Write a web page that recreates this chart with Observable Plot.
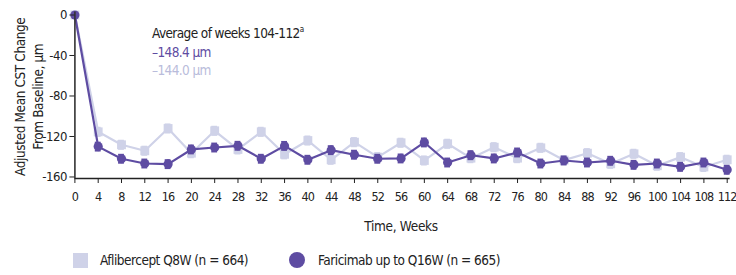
<!DOCTYPE html>
<html>
<head>
<meta charset="utf-8">
<script src="https://cdn.jsdelivr.net/npm/d3@7"></script>
<script src="https://cdn.jsdelivr.net/npm/@observablehq/plot@0.6"></script>
<style>
  html, body { margin: 0; padding: 0; background: #fff; }
  body { width: 736px; height: 275px; overflow: hidden; font-family: "DejaVu Sans", sans-serif; font-stretch: condensed; }
  #chart { position: relative; width: 736px; }
  .legend { display: flex; align-items: center; height: 30px; font-size: 13.5px; letter-spacing: -0.5px; color: #222; }
  .legend .item { display: flex; align-items: center; }
  .sw-sq { width: 15px; height: 15px; background: #cfd2e8; margin-left: 73px; margin-right: 12px; }
  .sw-ci { width: 16px; height: 16px; border-radius: 50%; background: #5e4ca2; margin-left: 41px; margin-right: 13px; }
  .annot { position: absolute; left: 152px; top: 24px; font-size: 13.5px; letter-spacing: -0.6px; line-height: 18.5px; color: #222; }
  .annot sup { font-size: 8px; vertical-align: 6px; line-height: 0; letter-spacing: 0; }
  .annot .f { color: #5e4ca2; }
  .annot .a { color: #b9bcdb; }
  svg g[aria-label="x-axis tick label"] text { letter-spacing: -0.9px; }
  svg g[aria-label="y-axis tick label"] text { letter-spacing: -0.5px; }
  svg g.ytitle text { letter-spacing: -0.4px; }
  svg g.xtitle text { letter-spacing: -0.3px; }
</style>
</head>
<body>
<div id="chart"></div>
<script>
const weeks = [0,4,8,12,16,20,24,28,32,36,40,44,48,52,56,60,64,68,72,76,80,84,88,92,96,100,104,108,112];
const faricimab = [0,-130,-142,-146.7,-147.3,-132.8,-130.9,-129.2,-142,-129.3,-143,-133.5,-138,-142,-141.7,-125.9,-145.7,-138.5,-141.7,-135.8,-146.7,-143.7,-145.7,-144,-148,-146.7,-150,-145.7,-152.9];
const aflibercept = [0,-115.4,-128.2,-134.1,-112.1,-136.5,-114.4,-132.8,-115.4,-137.6,-124,-143,-125.6,-140.4,-126.2,-143.7,-127.2,-141.4,-130.6,-141.4,-131.2,-143.4,-136.5,-147,-137.1,-148.9,-140.4,-150.1,-143];
const faricimabSE = [0,4,4,4,4,4,4,4,4,4,4,4,4,4,4,4,4,4,4,4,4,4,4,4,4,4,4,4,4];
const afliberceptSE = [0,4,4,4,4,4,4,4,4,4,4,4,4,4,4,4,4,4,4,4,4,4,4,4,4,4,4,4,4];
const yTicks = [0,-40,-80,-120,-160];
const seriesNames = ["Aflibercept Q8W (n = 664)", "Faricimab up to Q16W (n = 665)"];
const xTitle = "Time, Weeks";
const yTitle = ["Adjusted Mean CST Change", "From Baseline, \u00b5m"];
const avgTitle = "Average of weeks 104-112";
const avgFaricimab = "\u2013148.4 \u00b5m";
const avgAflibercept = "\u2013144.0 \u00b5m";

const colFar = "#5e4ca2";
const colAfl = "#cfd2e8";
const font = '"DejaVu Sans", sans-serif';

const far = weeks.map((w, i) => ({week: w, v: faricimab[i], se: faricimabSE[i]}));
const afl = weeks.map((w, i) => ({week: w, v: aflibercept[i], se: afliberceptSE[i]}));
const capHalf = 0.5;

function errMarks(data, color, sw) {
  const d = data.filter(p => p.se > 0);
  return [
    Plot.ruleX(d, {x: "week", y1: p => p.v - p.se, y2: p => p.v + p.se, stroke: color, strokeWidth: sw}),
    Plot.ruleY(d, {y: p => p.v - p.se, x1: p => p.week - capHalf, x2: p => p.week + capHalf, stroke: color, strokeWidth: sw}),
    Plot.ruleY(d, {y: p => p.v + p.se, x1: p => p.week - capHalf, x2: p => p.week + capHalf, stroke: color, strokeWidth: sw})
  ];
}

const plot = Plot.plot({
  width: 736,
  height: 245,
  marginLeft: 74.4,
  marginRight: 9.3,
  marginTop: 14.5,
  marginBottom: 67,
  style: {fontFamily: font, fontStretch: "condensed", fontSize: "13px", color: "#222", background: "#fff", overflow: "visible"},
  x: {domain: [0, 112], label: null},
  y: {domain: [-161.5, 0], label: null},
  marks: [
    Plot.line(afl, {x: "week", y: "v", stroke: colAfl, strokeWidth: 2.2}),
    ...errMarks(afl, colAfl, 2),
    Plot.dot(afl, {x: "week", y: "v", symbol: "square", r: 5, fill: colAfl}),
    Plot.line(far, {x: "week", y: "v", stroke: colFar, strokeWidth: 2.2}),
    ...errMarks(far, colFar, 1.8),
    Plot.dot(far, {x: "week", y: "v", r: 4.6, fill: colFar}),
    Plot.ruleX([0], {stroke: "#333", strokeWidth: 1.6, y1: -161.5, y2: 3}),
    Plot.ruleY([-161.5], {stroke: "#222", strokeWidth: 1.6, x1: 0, x2: 112.5}),
    Plot.axisX({ticks: weeks, tickSize: 5, tickPadding: 9, fontSize: 12.5, label: null}),
    Plot.axisY({ticks: yTicks, tickSize: 5, tickPadding: 3, fontSize: 13, tickFormat: d => String(d), label: null}),
    Plot.text([xTitle], {frameAnchor: "bottom", dy: 52, text: d => d, fontSize: 13.5, fill: "#222", className: "xtitle"}),
    Plot.text([yTitle[0]], {frameAnchor: "left", dx: -54, rotate: -90, textAnchor: "middle", text: d => d, fontSize: 13.5, fill: "#222", className: "ytitle"}),
    Plot.text([yTitle[1]], {frameAnchor: "left", dx: -36, rotate: -90, textAnchor: "middle", text: d => d, fontSize: 13.5, fill: "#222", className: "ytitle"})
  ]
});

const chart = document.getElementById("chart");
chart.appendChild(plot);
const annot = document.createElement("div");
annot.className = "annot";
annot.innerHTML = `<div>${avgTitle}<sup>a</sup></div><div class="f">${avgFaricimab}</div><div class="a">${avgAflibercept}</div>`;
chart.appendChild(annot);
const legend = document.createElement("div");
legend.className = "legend";
legend.innerHTML = `<div class="item"><div class="sw-sq"></div><span>${seriesNames[0]}</span></div>` +
  `<div class="item"><div class="sw-ci"></div><span>${seriesNames[1]}</span></div>`;
chart.appendChild(legend);
</script>
</body>
</html>
